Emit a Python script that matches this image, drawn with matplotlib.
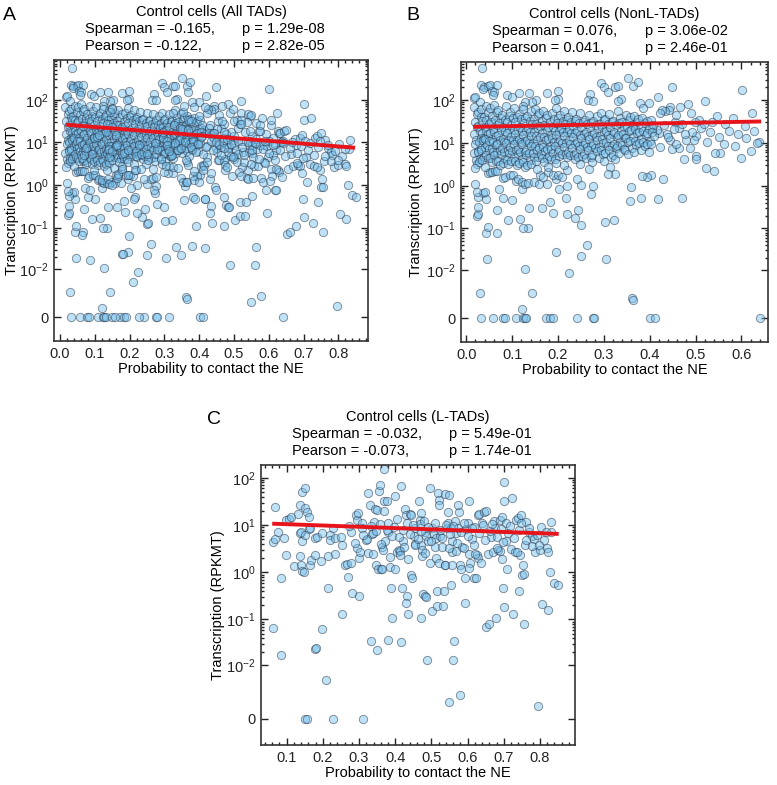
import numpy as np
import matplotlib
matplotlib.use('Agg')
import matplotlib.pyplot as plt
from matplotlib.ticker import FixedLocator, FixedFormatter

plt.rcParams['font.family'] = ['Liberation Sans', 'DejaVu Sans']
plt.rcParams['mathtext.default'] = 'regular'
plt.rcParams['font.size'] = 10.5

# NonL-TADs: (probability to contact the NE, transcription RPKMT)
nonl_pts = [
    # high outliers
    (0.035, 550), (0.032, 225), (0.039, 205), (0.048, 215), (0.052, 225), (0.066, 225),
    (0.037, 185), (0.055, 160), (0.061, 155), (0.017, 113), (0.020, 120), (0.059, 130),
    (0.089, 135), (0.099, 120), (0.115, 150), (0.137, 148), (0.177, 143), (0.153, 100),
    (0.143, 92), (0.127, 92), (0.123, 72), (0.199, 160), (0.199, 105), (0.193, 100),
    (0.294, 245), (0.300, 200), (0.308, 155), (0.324, 205), (0.330, 215), (0.352, 330),
    (0.364, 215), (0.374, 260), (0.337, 105), (0.330, 97), (0.270, 136), (0.265, 100),
    (0.276, 97), (0.399, 87), (0.379, 87), (0.386, 66),
    # right part
    (0.623, 49), (0.639, 10.5), (0.634, 10.0), (0.621, 6.6), (0.602, 175), (0.607, 25),
    (0.592, 16), (0.599, 4.5), (0.585, 8.7), (0.563, 9.3), (0.553, 5.7), (0.543, 5.9),
    (0.564, 28), (0.546, 42), (0.540, 2.2), (0.523, 2.6), (0.524, 10.6), (0.521, 95),
    (0.508, 34), (0.499, 31), (0.501, 14.5), (0.501, 4.9), (0.501, 4.2), (0.490, 49),
    (0.492, 18), (0.487, 7.8), (0.479, 12), (0.483, 79), (0.474, 4.1), (0.470, 0.52),
    (0.465, 70), (0.463, 7.8), (0.463, 22), (0.455, 31), (0.448, 200), (0.448, 7.4),
    (0.444, 70), (0.444, 12), (0.442, 60), (0.437, 16), (0.433, 56), (0.430, 1.4),
    (0.426, 60), (0.423, 8.1), (0.423, 49), (0.420, 16.6), (0.419, 120), (0.417, 0.48),
    (0.415, 20), (0.404, 22), (0.402, 1.75), (0.394, 1.6), (0.383, 1.65), (0.381, 0.53),
    (0.457, 44), (0.471, 27), (0.512, 22), (0.531, 18), (0.551, 14), (0.573, 19),
    (0.611, 13), (0.627, 19), (0.496, 11.5), (0.458, 9.2), (0.439, 13.5), (0.431, 26),
    (0.452, 21), (0.518, 27), (0.581, 38), (0.476, 16), (0.536, 30),
    # middle / low
    (0.361, 0.0016), (0.364, 0.0013), (0.359, 0.94), (0.357, 0.45), (0.323, 0.155),
    (0.324, 1.9), (0.313, 2.8), (0.310, 1.9), (0.305, 0.019), (0.303, 0.14),
    (0.277, 0.96), (0.272, 0.64), (0.268, 2.4), (0.263, 0.04), (0.251, 0.12),
    (0.250, 1.05), (0.250, 0.022), (0.244, 0.27), (0.242, 1.4), (0.237, 0.18),
    (0.224, 0.0083), (0.220, 0.22), (0.220, 1.0), (0.217, 0.53), (0.203, 0.86),
    (0.195, 0.027), (0.195, 1.4), (0.188, 0.23), (0.183, 0.42), (0.164, 0.3),
    (0.137, 0.3), (0.121, 0.85), (0.135, 0.10), (0.124, 0.10), (0.116, 0.17),
    (0.100, 0.46), (0.092, 0.16), (0.081, 0.52), (0.068, 0.27), (0.072, 0.85),
    (0.066, 0.08), (0.044, 0.08), (0.047, 0.11), (0.036, 0.66), (0.044, 0.48),
    (0.041, 0.7), (0.024, 0.2), (0.025, 0.22), (0.025, 0.32), (0.026, 0.55),
    (0.023, 0.73), (0.019, 1.1), (0.046, 0.019), (0.029, 0.0023), (0.128, 0.0107),
    (0.143, 0.0023), (0.121, 0.0005),
    (0.047, 2.0), (0.052, 2.1), (0.057, 2.1), (0.062, 2.15), (0.068, 2.15), (0.081, 1.5),
    (0.084, 1.6), (0.095, 1.75), (0.101, 1.75), (0.108, 1.3), (0.113, 1.4), (0.121, 1.2),
    (0.128, 1.1), (0.135, 1.15), (0.148, 1.2), (0.158, 1.1), (0.175, 1.12), (0.161, 1.75),
    (0.168, 1.6), (0.179, 2.1), (0.190, 1.75), (0.201, 1.75), (0.209, 1.6), (0.219, 2.3),
    # dense band
    (0.016, 68), (0.023, 47), (0.018, 31), (0.024, 23), (0.017, 16), (0.022, 11.5), (0.020, 9.4),
    (0.025, 6.6), (0.016, 5.8), (0.021, 4.0), (0.024, 3.3), (0.018, 2.6),
    (0.030, 92), (0.026, 53), (0.031, 40), (0.025, 25), (0.029, 19), (0.032, 13), (0.027, 10.5),
    (0.031, 7.6), (0.026, 6.3), (0.030, 4.3), (0.028, 3.6),
    (0.033, 62), (0.039, 41), (0.035, 33), (0.040, 23), (0.034, 17.5), (0.038, 13.2), (0.036, 11.5),
    (0.041, 8.1), (0.033, 6.8), (0.039, 4.8), (0.035, 4.0), (0.040, 2.8),
    (0.042, 72), (0.048, 52), (0.044, 34), (0.049, 28), (0.043, 19), (0.047, 16), (0.041, 12.4),
    (0.046, 9.1), (0.049, 7.3), (0.043, 5.3), (0.047, 4.5),
    (0.051, 67), (0.057, 43), (0.053, 31), (0.058, 21), (0.052, 16.8), (0.056, 12.5), (0.050, 10.8),
    (0.055, 7.7), (0.058, 6.2), (0.052, 4.4), (0.056, 3.6),
    (0.060, 78), (0.066, 54), (0.062, 35), (0.067, 26), (0.061, 18.2), (0.065, 14.6), (0.059, 10.6),
    (0.064, 8.8), (0.067, 6.2), (0.061, 5.2), (0.065, 3.7),
    (0.069, 60), (0.075, 38), (0.071, 29), (0.076, 20), (0.070, 15.6), (0.074, 11.4), (0.068, 9.4),
    (0.073, 6.7), (0.076, 5.4), (0.070, 3.8), (0.074, 3.1),
    (0.078, 46), (0.084, 35), (0.080, 23), (0.085, 18.8), (0.079, 12.4), (0.083, 10.5), (0.077, 7.7),
    (0.082, 6.3), (0.085, 4.3), (0.079, 3.4),
    (0.087, 72), (0.093, 42), (0.089, 31), (0.094, 21), (0.088, 16.7), (0.092, 12), (0.086, 9.9),
    (0.091, 6.9), (0.094, 5.7), (0.088, 4.0), (0.092, 3.2),
    (0.096, 53), (0.102, 39), (0.098, 26), (0.103, 19.8), (0.097, 13.4), (0.101, 11.5), (0.095, 8.1),
    (0.100, 6.6), (0.103, 4.6), (0.097, 3.7),
    (0.105, 67), (0.111, 41), (0.107, 31), (0.112, 20), (0.106, 16.2), (0.110, 11.5), (0.104, 9.4),
    (0.109, 6.7), (0.112, 5.5), (0.106, 3.8), (0.110, 3.0),
    (0.114, 48), (0.120, 36), (0.116, 24), (0.121, 18.8), (0.115, 12.4), (0.119, 10.4), (0.113, 7.2),
    (0.118, 6.0), (0.121, 4.2), (0.115, 3.4),
    (0.123, 62), (0.129, 39), (0.125, 29), (0.130, 19), (0.124, 15.7), (0.128, 11), (0.122, 9.2),
    (0.127, 6.3), (0.130, 5.2), (0.124, 3.6), (0.128, 2.8),
    (0.132, 43), (0.138, 33), (0.134, 22), (0.139, 17.8), (0.133, 12), (0.137, 9.9), (0.131, 6.9),
    (0.136, 5.7), (0.139, 3.9), (0.133, 3.1),
    (0.141, 57), (0.147, 37), (0.143, 27), (0.148, 18.2), (0.142, 14.6), (0.146, 10), (0.140, 8.3),
    (0.145, 5.8), (0.148, 4.7), (0.142, 3.3),
    (0.150, 63), (0.156, 44), (0.152, 28), (0.157, 22), (0.151, 14.8), (0.155, 12), (0.149, 8.3),
    (0.154, 6.8), (0.157, 4.6), (0.151, 3.8), (0.155, 2.5),
    (0.159, 50), (0.165, 32), (0.161, 25), (0.166, 16.8), (0.160, 13.6), (0.164, 9.4), (0.158, 7.7),
    (0.163, 5.4), (0.166, 4.4),
    (0.168, 56), (0.174, 39), (0.170, 26), (0.175, 20.4), (0.169, 13.9), (0.173, 11.5), (0.167, 7.9),
    (0.172, 6.5), (0.175, 4.4), (0.169, 3.5),
    (0.177, 46), (0.183, 30), (0.179, 23), (0.184, 15.4), (0.178, 12.5), (0.182, 8.6), (0.176, 7.1),
    (0.181, 4.9), (0.184, 4.1), (0.178, 2.8),
    (0.186, 50), (0.192, 37), (0.188, 24), (0.193, 18.8), (0.187, 12.9), (0.191, 10.5), (0.185, 7.3),
    (0.190, 5.9), (0.193, 4.1),
    (0.195, 64), (0.201, 39), (0.197, 29), (0.202, 19.2), (0.196, 15.6), (0.200, 10.6), (0.194, 8.7),
    (0.199, 6.0), (0.202, 4.9), (0.196, 3.4),
    (0.204, 44), (0.210, 33), (0.206, 22), (0.211, 17.7), (0.205, 12), (0.209, 9.7), (0.203, 6.7),
    (0.208, 5.4),
    (0.213, 57), (0.219, 35), (0.215, 27), (0.220, 18.2), (0.214, 14.6), (0.218, 10.1), (0.212, 8.1),
    (0.217, 5.6), (0.220, 4.6), (0.214, 3.1),
    (0.222, 40), (0.228, 31), (0.224, 21), (0.229, 16.7), (0.223, 11.5), (0.227, 9.4), (0.221, 6.3),
    (0.226, 5.1),
    (0.231, 52), (0.237, 33), (0.233, 25), (0.238, 17.3), (0.232, 13.6), (0.236, 9.4), (0.230, 7.6),
    (0.235, 5.2), (0.238, 4.2),
    (0.240, 36), (0.246, 29), (0.242, 19.2), (0.247, 15.6), (0.241, 10.5), (0.245, 8.6), (0.239, 5.9),
    (0.244, 4.7), (0.247, 3.2),
    (0.249, 49), (0.255, 31), (0.251, 24), (0.256, 16.3), (0.250, 13), (0.254, 8.9), (0.248, 7.2),
    (0.253, 4.9),
    (0.258, 34), (0.264, 27), (0.260, 18.2), (0.265, 14.6), (0.259, 10), (0.263, 8.0), (0.257, 5.5),
    (0.262, 4.4),
    (0.267, 46), (0.273, 29), (0.269, 23), (0.274, 15.4), (0.268, 12.5), (0.272, 8.4), (0.266, 6.8),
    (0.271, 4.6), (0.274, 3.6),
    (0.276, 33), (0.282, 26), (0.278, 17.3), (0.283, 14), (0.277, 9.6), (0.281, 7.7), (0.275, 5.3),
    (0.285, 42), (0.291, 28), (0.287, 22), (0.292, 14.9), (0.286, 12), (0.290, 8.2), (0.284, 6.6),
    (0.289, 4.4),
    (0.294, 50), (0.300, 34), (0.296, 23), (0.301, 18.2), (0.295, 12.5), (0.299, 10), (0.293, 6.8),
    (0.298, 5.4), (0.301, 3.7),
    (0.303, 36), (0.309, 28), (0.305, 19.2), (0.310, 15), (0.304, 10.3), (0.308, 8.3), (0.302, 5.7),
    (0.312, 47), (0.318, 30), (0.314, 23), (0.319, 15.8), (0.313, 12.7), (0.317, 8.7), (0.311, 7.0),
    (0.316, 4.7),
    (0.321, 33), (0.327, 26), (0.323, 17.8), (0.328, 14.1), (0.322, 9.6), (0.326, 7.8), (0.320, 5.3),
    (0.325, 4.3),
    (0.330, 57), (0.336, 38), (0.332, 29), (0.337, 19.2), (0.331, 15.6), (0.335, 10.6), (0.329, 8.5),
    (0.334, 5.8),
    (0.339, 30), (0.345, 24), (0.341, 16.3), (0.346, 13), (0.340, 8.9), (0.344, 7.1),
    (0.348, 46), (0.354, 35), (0.350, 24), (0.355, 18.8), (0.349, 12.8), (0.353, 10.3), (0.347, 7.0),
    (0.352, 5.6),
    (0.357, 40), (0.363, 26), (0.359, 20.4), (0.364, 13.9), (0.358, 11.2), (0.362, 7.6),
    (0.366, 42), (0.372, 31), (0.368, 20.6), (0.373, 16.8), (0.367, 11.3), (0.371, 9.1), (0.365, 6.2),
    (0.375, 36), (0.381, 23), (0.377, 18.3), (0.382, 12.5), (0.376, 10), (0.380, 6.8),
    (0.384, 38), (0.390, 29), (0.386, 19.2), (0.391, 15.5), (0.385, 10.5), (0.389, 8.4),
    (0.393, 32), (0.399, 21), (0.395, 16.8), (0.400, 11.3), (0.394, 9.2), (0.398, 6.2),
    (0.402, 34), (0.408, 26), (0.404, 17.6), (0.409, 14.2), (0.403, 9.5),
    # zero transcription
    (0.033, 0), (0.059, 0), (0.079, 0), (0.084, 0), (0.109, 0), (0.124, 0), (0.128, 0),
    (0.131, 0), (0.174, 0), (0.183, 0), (0.190, 0), (0.241, 0), (0.277, 0), (0.279, 0),
    (0.401, 0), (0.412, 0), (0.640, 0),
]

# L-TADs
lad_pts = [
    (0.067, 24.5), (0.062, 4.3), (0.069, 5.1), (0.062, 0.067), (0.076, 7.3), (0.085, 0.75),
    (0.085, 0.017), (0.093, 5.4), (0.098, 2.3), (0.099, 12.7), (0.106, 13.7), (0.113, 14.8),
    (0.120, 1.35), (0.132, 17.5), (0.136, 27), (0.138, 6.8), (0.140, 7.0), (0.141, 4.5),
    (0.136, 2.2), (0.143, 51), (0.151, 61), (0.139, 1.4), (0.141, 1.05), (0.149, 1.03),
    (0.151, 22.5), (0.157, 19), (0.162, 15), (0.151, 6.3), (0.162, 8.3), (0.164, 8.8),
    (0.164, 1.45), (0.167, 1.8), (0.178, 2.34), (0.178, 0.023), (0.181, 0.024), (0.178, 5.4),
    (0.185, 5.6), (0.195, 1.7), (0.197, 6.7), (0.199, 0.063), (0.210, 0.0046), (0.214, 0.47),
    (0.215, 2.25), (0.219, 6.3), (0.219, 4.9), (0.228, 8.5), (0.234, 2.4), (0.234, 5.3),
    (0.252, 3.8), (0.254, 0.13), (0.261, 1.4), (0.268, 1.5), (0.277, 1.55), (0.270, 0.78),
    (0.280, 0.37), (0.278, 7.0), (0.292, 16.5), (0.295, 13), (0.297, 18), (0.294, 3.2),
    (0.300, 0.31), (0.300, 2.0), (0.304, 2.75), (0.307, 11), (0.309, 8.5), (0.318, 4.8),
    (0.323, 5.1), (0.325, 2.6), (0.325, 48), (0.329, 26), (0.334, 0.034), (0.335, 6.5),
    (0.338, 6.8), (0.341, 11.5), (0.338, 2.5), (0.345, 22), (0.349, 0.022), (0.348, 1.45),
    (0.353, 1.2), (0.351, 21), (0.355, 52), (0.357, 70), (0.362, 1.2), (0.364, 1.18),
    (0.364, 3.4), (0.367, 3.0), (0.368, 33), (0.368, 152), (0.369, 20), (0.372, 4.7),
    (0.376, 32), (0.380, 7.0), (0.381, 11), (0.380, 0.036), (0.385, 2.1), (0.386, 1.3),
    (0.388, 0.47), (0.392, 0.11), (0.400, 42), (0.400, 1.2), (0.404, 13.5), (0.406, 2.75),
    (0.411, 3.0), (0.414, 2.85), (0.416, 68), (0.412, 2.3), (0.418, 0.46), (0.417, 0.033),
    (0.422, 4.6), (0.427, 22), (0.429, 16.5), (0.433, 0.32), (0.431, 0.22), (0.435, 1.9),
    (0.436, 0.13), (0.440, 17), (0.443, 16.5), (0.445, 0.89), (0.447, 0.75), (0.452, 6.0),
    (0.454, 3.9), (0.456, 3.8), (0.456, 8.5), (0.466, 32), (0.468, 13), (0.472, 18),
    (0.468, 10.5), (0.470, 0.11), (0.472, 3.7), (0.474, 2.9), (0.474, 2.2), (0.478, 0.34),
    (0.483, 0.31), (0.482, 7.3), (0.484, 5.9), (0.486, 0.30), (0.489, 0.013), (0.491, 4.7),
    (0.495, 1.6), (0.496, 60), (0.501, 8.8), (0.503, 0.15), (0.506, 6.6), (0.510, 3.4),
    (0.512, 5.4), (0.513, 2.0), (0.516, 0.19), (0.516, 0.40), (0.519, 48), (0.521, 34),
    (0.520, 27), (0.521, 1.6), (0.525, 6.0), (0.530, 3.4), (0.532, 0.19), (0.534, 0.41),
    (0.537, 1.45), (0.539, 1.4), (0.539, 46), (0.544, 8.5), (0.546, 19), (0.545, 11),
    (0.548, 0.0010), (0.548, 44), (0.553, 0.55), (0.553, 8.5), (0.556, 4.5), (0.556, 1.45),
    (0.558, 2.75), (0.560, 0.013), (0.562, 0.034), (0.564, 12), (0.567, 6.9), (0.569, 2.8),
    (0.574, 8.5), (0.576, 19), (0.574, 26), (0.578, 0.0018), (0.579, 1.45), (0.583, 1.2),
    (0.585, 3.4), (0.590, 3.3), (0.593, 0.77), (0.594, 0.22), (0.596, 8.3), (0.602, 11),
    (0.605, 33), (0.605, 2.4), (0.608, 1.6), (0.604, 1.25), (0.613, 5.0), (0.619, 9),
    (0.619, 0.75), (0.622, 0.75), (0.627, 2.3), (0.628, 2.0), (0.628, 16.5), (0.633, 17),
    (0.637, 1.55), (0.640, 11), (0.645, 19), (0.650, 20), (0.651, 0.07), (0.656, 2.4),
    (0.660, 0.08), (0.664, 5.5), (0.670, 2.75), (0.674, 12), (0.677, 8.5), (0.679, 0.11),
    (0.684, 3.0), (0.689, 12.5), (0.691, 2.8), (0.694, 15), (0.696, 1.9), (0.699, 0.46),
    (0.700, 33), (0.701, 80), (0.702, 0.18), (0.705, 11), (0.707, 4.6), (0.710, 1.2),
    (0.719, 3.1), (0.722, 37), (0.726, 0.13), (0.731, 2.75), (0.733, 13), (0.739, 14),
    (0.742, 0.40), (0.746, 2.3), (0.749, 16.5), (0.751, 0.90), (0.756, 0.92), (0.754, 1.4),
    (0.756, 0.08), (0.759, 3.7), (0.762, 11.5), (0.769, 7.3), (0.779, 6.0), (0.783, 5.1),
    (0.786, 2.7), (0.795, 0.0007), (0.800, 2.9), (0.806, 0.21), (0.820, 3.2), (0.822, 2.75),
    (0.821, 0.16), (0.827, 1.0), (0.830, 7.0), (0.832, 11.5), (0.840, 0.6), (0.850, 0.53),
    (0.332, 9.5), (0.347, 7.5), (0.358, 10.5), (0.377, 8), (0.391, 6), (0.398, 9),
    (0.411, 5.5), (0.421, 8), (0.433, 11), (0.441, 6.5), (0.449, 10), (0.462, 5),
    (0.471, 7.5), (0.479, 12), (0.492, 9), (0.498, 4.5), (0.511, 11), (0.523, 7.8),
    (0.529, 5.2), (0.541, 10), (0.551, 6.5), (0.561, 9.5), (0.572, 4.2), (0.582, 7),
    (0.589, 11), (0.601, 5.8), (0.611, 8.8), (0.618, 3.8), (0.631, 6.8), (0.642, 9.8),
    (0.648, 4.8), (0.661, 7.6), (0.668, 10.5), (0.681, 5.6), (0.692, 8.2), (0.698, 4.4),
    (0.712, 6.8), (0.718, 9.5), (0.729, 5.2), (0.741, 7.8), (0.748, 10.8), (0.761, 4.9),
    (0.771, 8.6), (0.778, 3.6), (0.791, 6.3), (0.802, 9.2), (0.811, 4.8), (0.818, 7.2),
    (0.362, 3.9), (0.423, 3.4), (0.481, 2.6), (0.549, 3.2), (0.621, 2.4), (0.682, 3.3),
    (0.738, 2.7), (0.798, 3.8), (0.249, 5.5), (0.272, 9.5), (0.289, 4.2), (0.312, 6.2),
    (0.151, 0), (0.157, 0), (0.228, 0), (0.312, 0),
]

# fitted regression lines (end points)
fit_all_x = [0.018, 0.848]
fit_all_y = [26, 7.5]
fit_nonl_x = [0.015, 0.643]
fit_nonl_y = [23.8, 31.7]
fit_lad_x = [0.060, 0.852]
fit_lad_y = [10.7, 6.5]

titles = ['Control cells (All TADs)', 'Control cells (NonL-TADs)', 'Control cells (L-TADs)']
stats = [
    [('Spearman = -0.165,', 'p = 1.29e-08'), ('Pearson = -0.122,', 'p = 2.82e-05')],
    [('Spearman = 0.076,', 'p = 3.06e-02'), ('Pearson = 0.041,', 'p = 2.46e-01')],
    [('Spearman = -0.032,', 'p = 5.49e-01'), ('Pearson = -0.073,', 'p = 1.74e-01')],
]

ytick_vals = [0, 0.01, 0.1, 1, 10, 100]
ytick_labels = ['0', '$10^{-2}$', '$10^{-1}$', '$10^{0}$', '$10^{1}$', '$10^{2}$']

PSEUDO = 8e-4


def fwd(y):
    return np.log10(np.maximum(np.asarray(y, dtype=float) + PSEUDO, 1e-12))


def inv(t):
    return 10 ** np.asarray(t, dtype=float) - PSEUDO


def draw_panel(ax, pts, fx, fy, title, st, xlim, ttop, xticks, label_x):
    x = np.array([p[0] for p in pts])
    y = np.array([p[1] for p in pts])
    ax.set_yscale('function', functions=(fwd, inv))
    ax.scatter(x, y, s=36, facecolor=(0.45, 0.75, 0.93, 0.45),
               edgecolor=(0.15, 0.2, 0.28, 0.55), linewidth=0.65, zorder=2)
    ax.plot(fx, fy, color='#e8141c', lw=2.8, zorder=3, solid_capstyle='butt')
    ax.yaxis.set_major_locator(FixedLocator(ytick_vals))
    ax.yaxis.set_major_formatter(FixedFormatter(ytick_labels))
    minors = [k * 10.0 ** e for e in range(-2, 3) for k in range(2, 10)]
    ax.yaxis.set_minor_locator(FixedLocator(minors))
    ax.set_xticks(xticks)
    ax.set_xticklabels(['%.1f' % v for v in xticks])
    ax.set_xticks(np.arange(0, 0.9001, 0.02), minor=True)
    ax.set_xlim(*xlim)
    ax.set_ylim(inv(-3.65), inv(ttop))
    ax.tick_params(which='both', direction='in', top=True, right=True,
                   colors='#222222', labelsize=10.5, width=1.0)
    ax.tick_params(which='major', length=5, pad=4)
    ax.tick_params(which='minor', length=2.5)
    for sp in ax.spines.values():
        sp.set_linewidth(1.2)
        sp.set_color('#333333')
    ax.set_xlabel('Probability to contact the NE', fontsize=10.5)
    ax.set_ylabel('Transcription (RPKMT)', fontsize=10.5)
    ax.xaxis.set_label_coords(0.5, -0.075)
    ax.yaxis.set_label_coords(label_x, 0.5)
    ax.annotate(title, xy=(0.5, 1), xycoords='axes fraction', xytext=(0, 34.5),
                textcoords='offset points', ha='center', va='center', fontsize=10.5)
    for i, (a, b) in enumerate(st):
        off = 22.5 - 12.5 * i
        ax.annotate(a, xy=(0.10, 1), xycoords='axes fraction', xytext=(0, off),
                    textcoords='offset points', ha='left', va='center', fontsize=10.5)
        ax.annotate(b, xy=(0.60, 1), xycoords='axes fraction', xytext=(0, off),
                    textcoords='offset points', ha='left', va='center', fontsize=10.5)
    return ax


fig = plt.figure(figsize=(7.77, 7.85), dpi=100)
W, H = 777.0, 785.0

ax_a = fig.add_axes([54 / W, 1 - 341 / H, 314 / W, 281 / H])
ax_b = fig.add_axes([461 / W, 1 - 342 / H, 307 / W, 280 / H])
ax_c = fig.add_axes([261 / W, 1 - 745 / H, 314 / W, 280 / H])

draw_panel(ax_a, nonl_pts + lad_pts, fit_all_x, fit_all_y, titles[0], stats[0],
           (-0.017, 0.885), 2.93, np.arange(0, 0.81, 0.1), -0.111)
draw_panel(ax_b, nonl_pts, fit_nonl_x, fit_nonl_y, titles[1], stats[1],
           (-0.0116, 0.658), 2.89, np.arange(0, 0.61, 0.1), -0.124)
draw_panel(ax_c, lad_pts, fit_lad_x, fit_lad_y, titles[2], stats[2],
           (0.029, 0.897), 2.27, np.arange(0.1, 0.81, 0.1), -0.115)

fig.text(9 / W, 1 - 15 / H, 'A', fontsize=14, ha='center', va='center')
fig.text(413 / W, 1 - 16 / H, 'B', fontsize=14, ha='center', va='center')
fig.text(214 / W, 1 - 419 / H, 'C', fontsize=14, ha='center', va='center')

fig.savefig('out.png', dpi=100)
